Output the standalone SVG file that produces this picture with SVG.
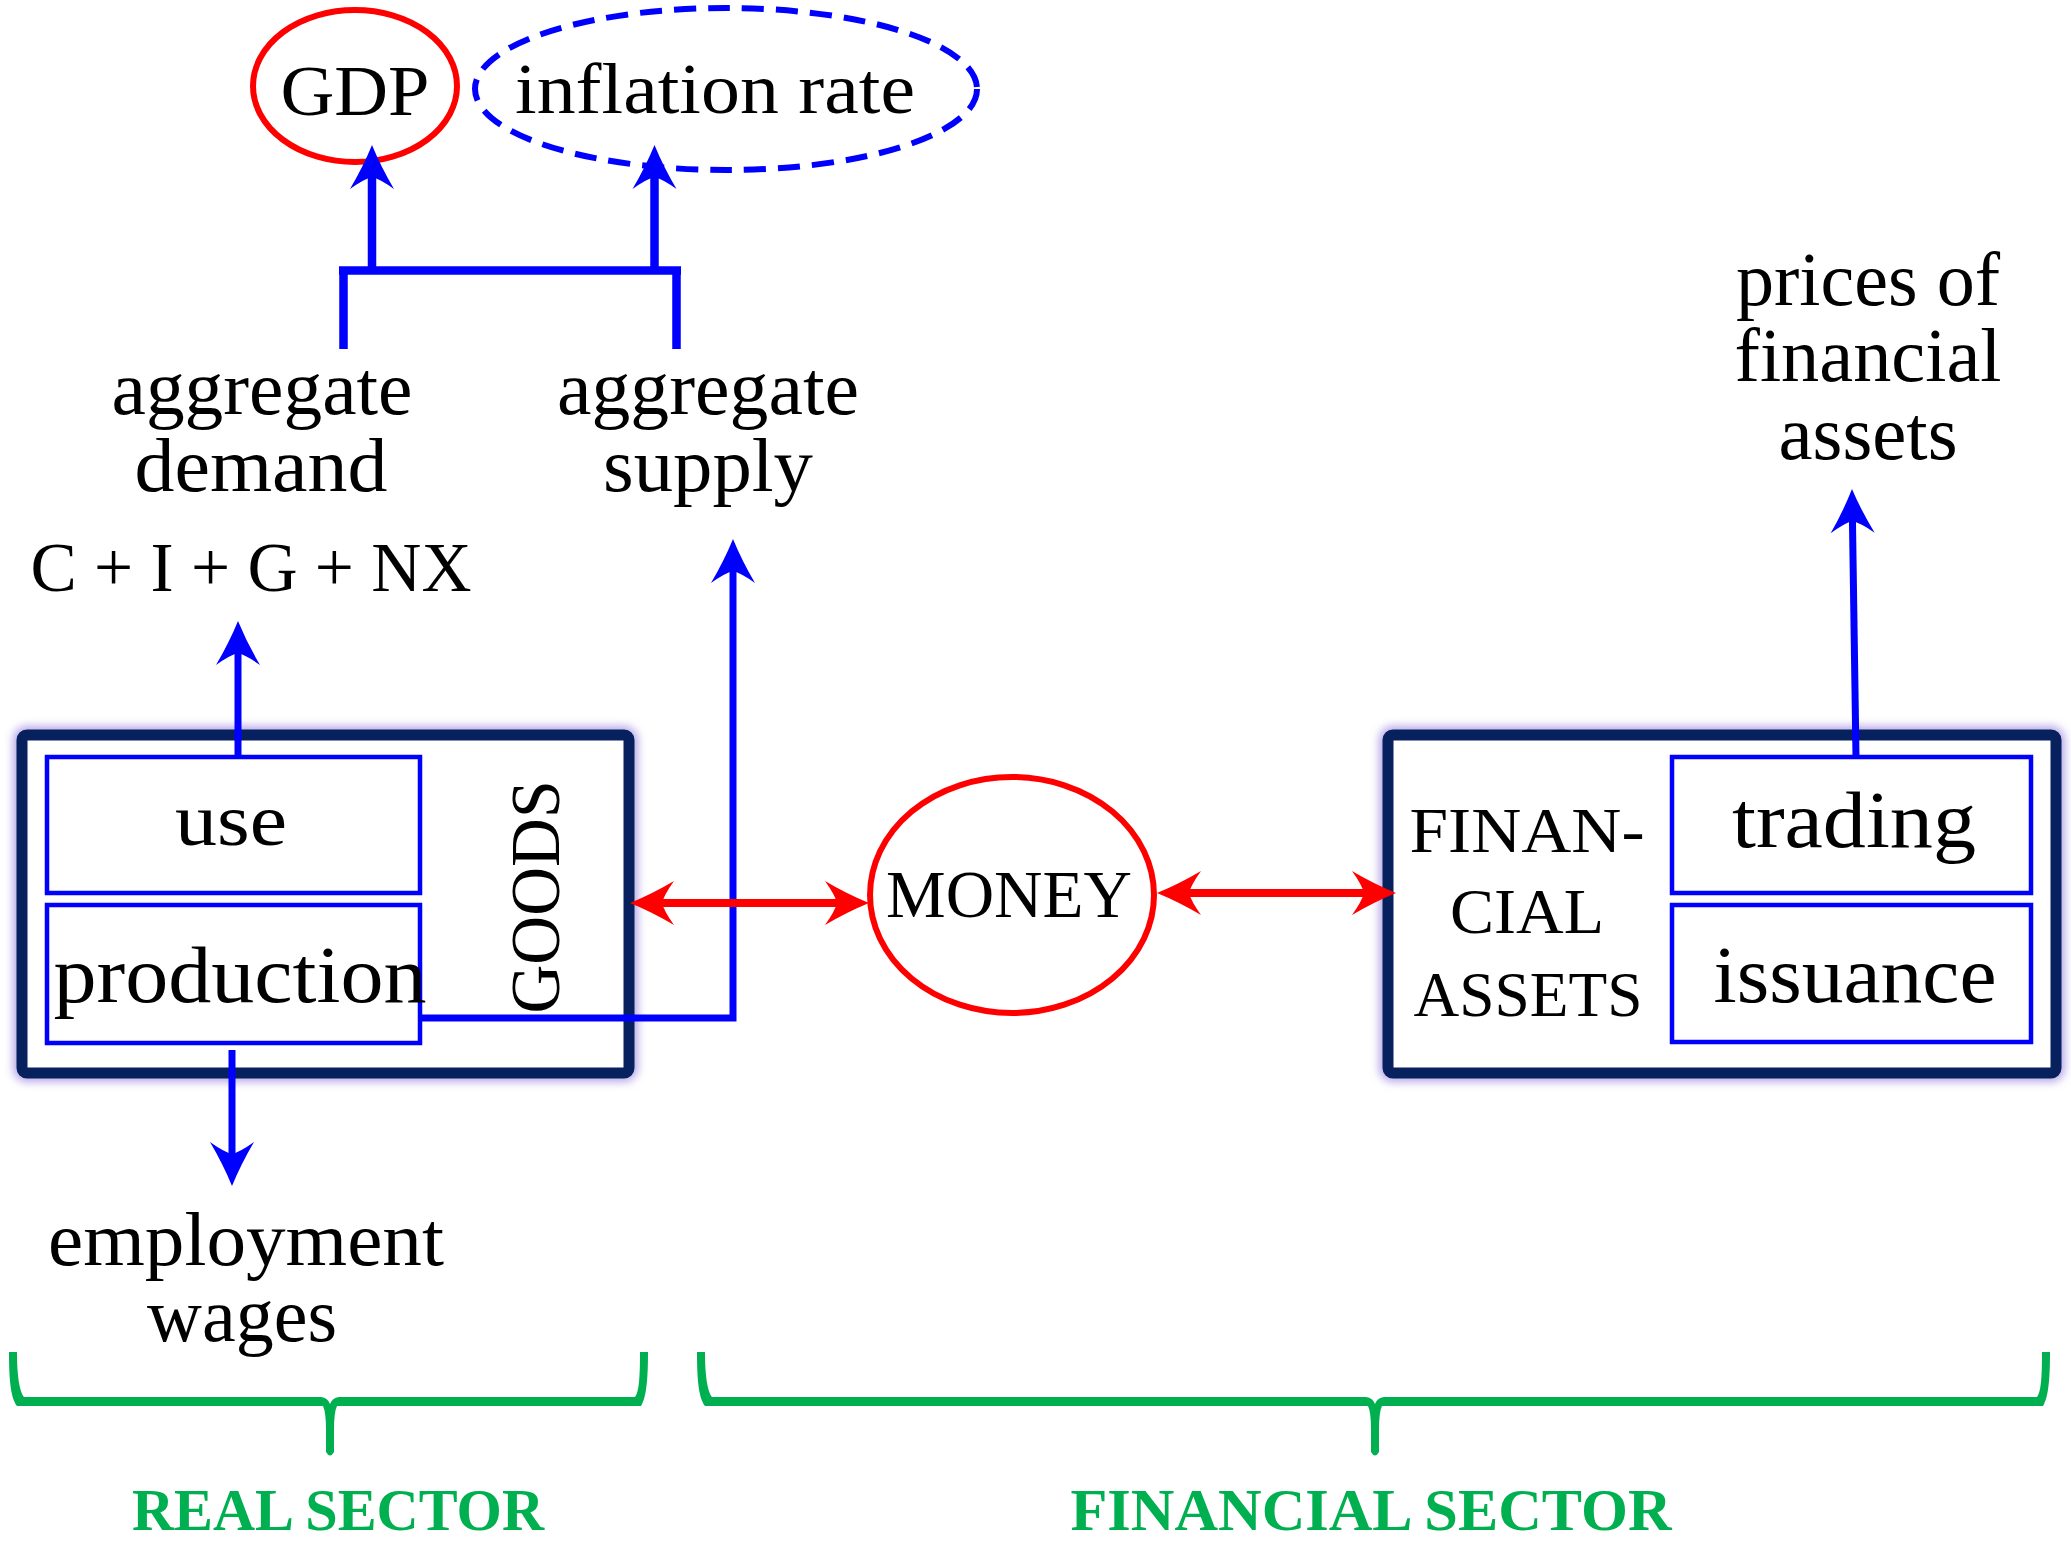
<svg xmlns="http://www.w3.org/2000/svg" width="2071" height="1543" viewBox="0 0 2071 1543">
<style>
text{font-family:"Liberation Serif","DejaVu Serif",serif;fill:#000;text-anchor:middle}
.lbl{font-size:76px}
.sec{font-size:60px;font-weight:bold;fill:#00b050}
.outer{fill:#fff;stroke:#07205e;stroke-width:11}
.glow{fill:none;stroke:#b8a8e8;stroke-width:18}
.inner{fill:none;stroke:#0000ff;stroke-width:4.5}
.blue{fill:none;stroke:#0000ff;stroke-width:7}
.bk{fill:none;stroke:#0000ff;stroke-width:8.5}
.red{fill:none;stroke:#ff0000;stroke-width:8}
.brace{fill:#00b050}
</style>
<defs>
<filter id="blur" x="-10%" y="-10%" width="120%" height="120%"><feGaussianBlur stdDeviation="4"/></filter>
<marker id="ahB" viewBox="-46 -24 48 48" refX="-28" refY="0" markerWidth="48" markerHeight="48" markerUnits="userSpaceOnUse" orient="auto-start-reverse">
<path d="M0,0 Q-22,-9 -44,-22 Q-34,-8 -32,0 Q-34,8 -44,22 Q-22,9 0,0Z" fill="#0000ff"/>
</marker>
<marker id="ahR" viewBox="-46 -24 48 48" refX="-28" refY="0" markerWidth="48" markerHeight="48" markerUnits="userSpaceOnUse" orient="auto-start-reverse">
<path d="M0,0 Q-22,-9 -44,-22 Q-34,-8 -32,0 Q-34,8 -44,22 Q-22,9 0,0Z" fill="#ff0000"/>
</marker>
</defs>

<g id="gdp">
<ellipse cx="355" cy="86" rx="102" ry="76" fill="none" stroke="#ff0000" stroke-width="6"/>
<text x="355" y="115" font-size="72" textLength="149" lengthAdjust="spacingAndGlyphs">GDP</text>
</g>
<g id="inflation">
<ellipse cx="726" cy="89" rx="251" ry="81" fill="none" stroke="#0000ff" stroke-width="6" stroke-dasharray="22 12"/>
<text x="715" y="113" font-size="72" textLength="400" lengthAdjust="spacingAndGlyphs">inflation rate</text>
</g>
<g id="aggregate-demand">
<text class="lbl" x="262" y="414" textLength="301" lengthAdjust="spacingAndGlyphs">aggregate</text>
<text class="lbl" x="261" y="491" textLength="253" lengthAdjust="spacingAndGlyphs">demand</text>
</g>
<g id="aggregate-supply">
<text class="lbl" x="708" y="414" textLength="302" lengthAdjust="spacingAndGlyphs">aggregate</text>
<text class="lbl" x="708" y="491" textLength="210" lengthAdjust="spacingAndGlyphs">supply</text>
</g>
<g id="cign">
<text x="251" y="591" font-size="70" textLength="441" lengthAdjust="spacingAndGlyphs">C + I + G + NX</text>
</g>
<g id="prices">
<text class="lbl" x="1868" y="305" textLength="264" lengthAdjust="spacingAndGlyphs">prices of</text>
<text class="lbl" x="1868" y="381" textLength="267" lengthAdjust="spacingAndGlyphs">financial</text>
<text class="lbl" x="1868" y="459" textLength="179" lengthAdjust="spacingAndGlyphs">assets</text>
</g>
<g id="employment">
<text class="lbl" x="246" y="1265" textLength="396" lengthAdjust="spacingAndGlyphs">employment</text>
<text class="lbl" x="242" y="1341" textLength="190" lengthAdjust="spacingAndGlyphs">wages</text>
</g>

<g id="goods-box">
<rect class="glow" x="22" y="735" width="607" height="338" rx="5" filter="url(#blur)"/>
<rect class="outer" x="22" y="735" width="607" height="338" rx="5"/>
<rect class="inner" x="47" y="757" width="373" height="136"/>
<rect class="inner" x="47" y="905" width="373" height="138"/>
<text x="231" y="845" font-size="74" textLength="112" lengthAdjust="spacingAndGlyphs">use</text>
<text x="240" y="1002" font-size="80" textLength="373" lengthAdjust="spacingAndGlyphs">production</text>
<text transform="translate(559,897) rotate(-90)" x="0" y="0" font-size="70" textLength="233" lengthAdjust="spacingAndGlyphs">GOODS</text>
</g>

<g id="money">
<ellipse cx="1012" cy="895" rx="142" ry="118" fill="none" stroke="#ff0000" stroke-width="6"/>
<text x="1009" y="917" font-size="67" textLength="246" lengthAdjust="spacingAndGlyphs">MONEY</text>
</g>

<g id="financial-box">
<rect class="glow" x="1388" y="735" width="668" height="338" rx="5" filter="url(#blur)"/>
<rect class="outer" x="1388" y="735" width="668" height="338" rx="5"/>
<rect class="inner" x="1672" y="757" width="359" height="136"/>
<rect class="inner" x="1672" y="905" width="359" height="137"/>
<text x="1527" y="852" font-size="64" textLength="235" lengthAdjust="spacingAndGlyphs">FINAN-</text>
<text x="1527" y="933" font-size="64" textLength="154" lengthAdjust="spacingAndGlyphs">CIAL</text>
<text x="1528" y="1016" font-size="64" textLength="229" lengthAdjust="spacingAndGlyphs">ASSETS</text>
<text x="1854" y="847" font-size="80" textLength="244" lengthAdjust="spacingAndGlyphs">trading</text>
<text x="1855" y="1002" font-size="80" textLength="283" lengthAdjust="spacingAndGlyphs">issuance</text>
</g>

<g id="connectors">
<path class="bk" d="M343.5,349 V270 M676.5,349 V270"/>
<path class="bk" d="M339,270.5 H681"/>
<path class="bk" d="M372,270 V173" marker-end="url(#ahB)"/>
<path class="bk" d="M654.5,270 V173" marker-end="url(#ahB)"/>
<path class="blue" d="M238,757 V649" marker-end="url(#ahB)"/>
<path class="blue" d="M420,1018 H733 V567" marker-end="url(#ahB)"/>
<path class="blue" d="M1856,757 L1852.4,517" marker-end="url(#ahB)"/>
<path class="blue" d="M232,1050 V1158" marker-end="url(#ahB)"/>
<path class="red" d="M658,903 H841" marker-start="url(#ahR)" marker-end="url(#ahR)"/>
<path class="red" d="M1185,893 H1368" marker-start="url(#ahR)" marker-end="url(#ahR)"/>
</g>

<g id="real-sector">
<path class="brace" d="M9,1352 C9,1382 11,1398 17,1406 L323,1406 Q326,1412 326,1430 L326,1452 Q330,1459 334,1452 L334,1430 Q334,1412 337,1406 L641,1406 C646,1398 648,1382 648,1352 L640,1352 C640,1378 639,1392 635,1397 L339,1397 Q332,1398 330,1404 Q328,1398 321,1397 L24,1397 C20,1392 17,1378 17,1352 Z"/>
<text class="sec" x="338" y="1530" textLength="412" lengthAdjust="spacingAndGlyphs">REAL SECTOR</text>
</g>
<g id="financial-sector">
<path class="brace" d="M697,1352 C697,1382 699,1398 705,1406 L1368,1406 Q1371,1412 1371,1430 L1371,1452 Q1375,1459 1379,1452 L1379,1430 Q1379,1412 1382,1406 L2043,1406 C2048,1398 2050,1382 2050,1352 L2042,1352 C2042,1378 2041,1392 2037,1397 L1384,1397 Q1377,1398 1375,1404 Q1373,1398 1366,1397 L712,1397 C708,1392 705,1378 705,1352 Z"/>
<text class="sec" x="1371" y="1530" textLength="601" lengthAdjust="spacingAndGlyphs">FINANCIAL SECTOR</text>
</g>
</svg>
